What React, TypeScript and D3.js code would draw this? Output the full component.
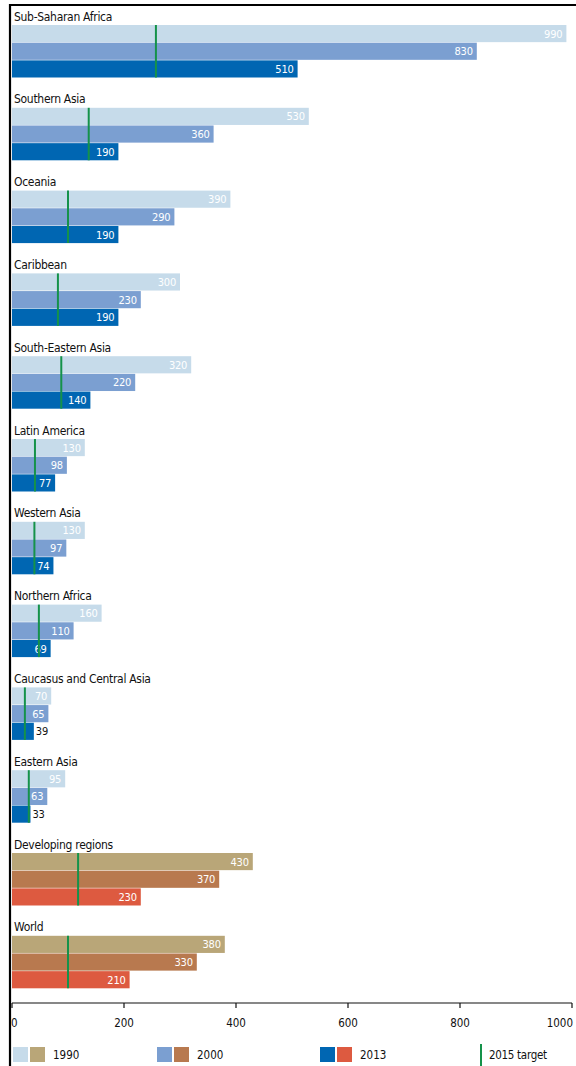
import React from "react";
import * as d3 from "d3";

const regions = [
  "Sub-Saharan Africa",
  "Southern Asia",
  "Oceania",
  "Caribbean",
  "South-Eastern Asia",
  "Latin America",
  "Western Asia",
  "Northern Africa",
  "Caucasus and Central Asia",
  "Eastern Asia",
  "Developing regions",
  "World",
];
const v1990 = [990, 530, 390, 300, 320, 130, 130, 160, 70, 95, 430, 380];
const v2000 = [830, 360, 290, 230, 220, 98, 97, 110, 65, 63, 370, 330];
const v2013 = [510, 190, 190, 190, 140, 77, 74, 69, 39, 33, 230, 210];
const target2015 = [257, 137, 100, 82, 88, 41, 40, 48, 23, 30, 118, 100];
const aggregateRegions = ["Developing regions", "World"];
const years = ["1990", "2000", "2013"];
const xTicks = [0, 200, 400, 600, 800, 1000];

const blueColors = ["#c6dbea", "#7b9fd1", "#0066b2"];
const warmColors = ["#b9a678", "#b8794f", "#dd5a40"];
const targetColor = "#15924a";
const FONT = "'DejaVu Sans Condensed', 'DejaVu Sans', sans-serif";

export default function App() {
  const W = 576;
  const H = 1066;
  const x = d3.scaleLinear().domain([0, 1000]).range([12, 572]);
  const groupTop = 25;
  const groupStep = 82.8;
  const yGroup = d3
    .scaleBand<string>()
    .domain(regions)
    .range([groupTop, groupTop + groupStep * regions.length])
    .paddingInner(0)
    .paddingOuter(0);
  const yBar = d3.scaleBand<string>().domain(years).range([0, 52.5]).paddingInner(0.03);
  const axisY = 1003;

  const series = [v1990, v2000, v2013];

  return (
    <svg
      width={W}
      height={H}
      style={{ position: "absolute", left: 0, top: 0, background: "#fff" }}
      fontFamily={FONT}
    >
      <rect x={0} y={0} width={W} height={H} fill="#fff" />
      {regions.map((r, i) => {
        const g0 = yGroup(r)!;
        const colors = aggregateRegions.includes(r) ? warmColors : blueColors;
        return (
          <g key={r}>
            <text x={14} y={g0 - 4.5} fontSize={12} fill="#111" letterSpacing={-0.3}>
              {r}
            </text>
            {years.map((yr, j) => {
              const v = series[j][i];
              const by = g0 + yBar(yr)!;
              const bh = yBar.bandwidth();
              const x1 = x(v);
              const inside = v >= 50;
              return (
                <g key={yr}>
                  <rect x={x(0)} y={by} width={x1 - x(0)} height={bh} fill={colors[j]} />
                  <text
                    x={inside ? x1 - 4 : x1 + 2}
                    y={by + bh / 2 + 4}
                    fontSize={11}
                    textAnchor={inside ? "end" : "start"}
                    fill={inside ? "#fff" : "#111"}
                    letterSpacing={-0.2}
                  >
                    {v}
                  </text>
                </g>
              );
            })}
            <line
              x1={x(target2015[i])}
              x2={x(target2015[i])}
              y1={g0}
              y2={g0 + 52.5}
              stroke={targetColor}
              strokeWidth={2}
            />
          </g>
        );
      })}

      {/* axis */}
      <line x1={x(0)} x2={x(1000)} y1={axisY} y2={axisY} stroke="#111" strokeWidth={1.2} />
      {xTicks.map((t) => (
        <g key={t}>
          <line x1={x(t)} x2={x(t)} y1={axisY} y2={axisY + 5} stroke="#111" strokeWidth={1.2} />
          <text
            x={t === 0 ? x(t) - 1 : t === 1000 ? x(t) + 1 : x(t)}
            y={axisY + 24}
            fontSize={11.5}
            textAnchor={t === 0 ? "start" : t === 1000 ? "end" : "middle"}
            fill="#111"
          >
            {t}
          </text>
        </g>
      ))}

      {/* legend */}
      {[
        { label: "1990", x0: 13, c: [blueColors[0], warmColors[0]] },
        { label: "2000", x0: 157, c: [blueColors[1], warmColors[1]] },
        { label: "2013", x0: 320, c: [blueColors[2], warmColors[2]] },
      ].map((l) => (
        <g key={l.label}>
          <rect x={l.x0} y={1047} width={15} height={15} fill={l.c[0]} />
          <rect x={l.x0 + 17} y={1047} width={15} height={15} fill={l.c[1]} />
          <text x={l.x0 + 40} y={1059} fontSize={11.5} fill="#111">
            {l.label}
          </text>
        </g>
      ))}
      <line x1={481} x2={481} y1={1044} y2={1066} stroke={targetColor} strokeWidth={2} />
      <text x={489} y={1059} fontSize={11.5} fill="#111" letterSpacing={-0.3}>
        2015 target
      </text>

      {/* frame */}
      <line x1={10} x2={10} y1={4} y2={H} stroke="#000" strokeWidth={2.2} />
      <line x1={9} x2={W} y1={5} y2={5} stroke="#000" strokeWidth={2.2} />
    </svg>
  );
}
